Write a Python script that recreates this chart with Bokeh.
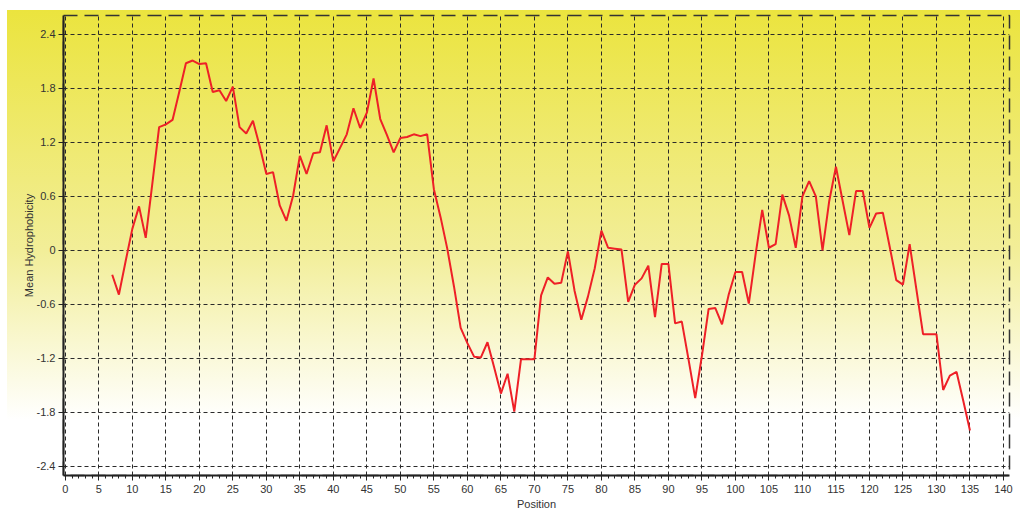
from bokeh.plotting import figure
from bokeh.models import Range1d, FixedTicker, ColumnDataSource
from bokeh.embed import file_html
from bokeh.resources import INLINE

positions = list(range(7, 136))
hydrophobicity = [
    -0.27, -0.49, -0.12, 0.24, 0.49, 0.14, 0.75, 1.37, 1.40, 1.45,
    1.76, 2.08, 2.11, 2.07, 2.08, 1.76, 1.78, 1.66, 1.82, 1.37,
    1.30, 1.44, 1.16, 0.85, 0.87, 0.50, 0.33, 0.61, 1.05, 0.85,
    1.08, 1.09, 1.39, 0.99, 1.14, 1.29, 1.58, 1.36, 1.53, 1.91,
    1.46, 1.28, 1.09, 1.25, 1.26, 1.29, 1.27, 1.29, 0.68, 0.37,
    0.02, -0.40, -0.86, -1.03, -1.18, -1.19, -1.02, -1.30, -1.59, -1.37,
    -1.79, -1.21, -1.21, -1.21, -0.50, -0.30, -0.37, -0.36, -0.01, -0.45,
    -0.77, -0.51, -0.20, 0.22, 0.03, 0.02, 0.01, -0.57, -0.38, -0.31,
    -0.17, -0.74, -0.15, -0.15, -0.81, -0.79, -1.21, -1.64, -1.17, -0.65,
    -0.64, -0.82, -0.49, -0.24, -0.24, -0.59, -0.05, 0.45, 0.03, 0.07,
    0.62, 0.39, 0.03, 0.60, 0.77, 0.60, 0.00, 0.55, 0.93, 0.55,
    0.17, 0.66, 0.66, 0.25, 0.41, 0.42, 0.05, -0.33, -0.38, 0.07,
    -0.43, -0.93, -0.93, -0.93, -1.55, -1.39, -1.35, -1.67, -2.00,
]
x_ticks = list(range(0, 141, 5))
y_ticks = [-2.4, -1.8, -1.2, -0.6, 0, 0.6, 1.2, 1.8, 2.4]
y_labels = ["-2.4", "-1.8", "-1.2", "-0.6", "0", "0.6", "1.2", "1.8", "2.4"]

src = ColumnDataSource(dict(x=positions, y=hydrophobicity))

p = figure(width=1020, height=512, output_backend="svg", toolbar_location=None,
           x_range=Range1d(-0.27, 140.9), y_range=Range1d(-2.5, 2.61),
           min_border_left=63, min_border_right=11, min_border_top=15, min_border_bottom=33)

p.styles = {
    "background": "linear-gradient(to right, #ffffff 0px, #ffffff 7px, rgba(255,255,255,0) 7px), "
                  "linear-gradient(to bottom, #ffffff 0px, #ffffff 10px, #ebe43e 10px, #f2ee98 250px, #ffffff 420px, #ffffff 100%)"
}
p.background_fill_alpha = 0
p.border_fill_alpha = 0

p.outline_line_color = "#333333"
p.outline_line_width = 1.5
p.outline_line_dash = "14 7"

p.line("x", "y", source=src, line_color="#ee2027", line_width=2)

for g in (p.xgrid, p.ygrid):
    g.grid_line_color = "#2a2a2a"
    g.grid_line_dash = "4 3"
    g.grid_line_width = 1

p.xaxis.ticker = FixedTicker(ticks=x_ticks, minor_ticks=list(range(0, 141)))
p.yaxis.ticker = FixedTicker(ticks=y_ticks)
p.yaxis.major_label_overrides = {v: s for v, s in zip(y_ticks, y_labels)}

for ax in (p.xaxis, p.yaxis):
    ax.axis_line_color = "#222222"
    ax.axis_line_width = 2
    ax.major_tick_line_color = "#222222"
    ax.minor_tick_line_color = "#222222"
    ax.major_tick_in = 0
    ax.minor_tick_in = 0
    ax.major_label_text_font = "Liberation Sans"
    ax.major_label_text_font_size = "11px"
    ax.major_label_text_color = "#333333"
    ax.axis_label_text_font = "Liberation Sans"
    ax.axis_label_text_font_size = "11px"
    ax.axis_label_text_font_style = "normal"
    ax.axis_label_text_color = "#333333"

p.xaxis.major_tick_out = 5
p.xaxis.minor_tick_out = 3
p.yaxis.major_tick_out = 5
p.yaxis.minor_tick_line_color = None
p.xaxis.major_label_standoff = 4
p.yaxis.major_label_standoff = 3
p.xaxis.axis_label = "Position"
p.yaxis.axis_label = "Mean Hydrophobicity"
p.xaxis.axis_label_standoff = 2
p.yaxis.axis_label_standoff = -1

open("out.html", "w").write(file_html(p, INLINE))
